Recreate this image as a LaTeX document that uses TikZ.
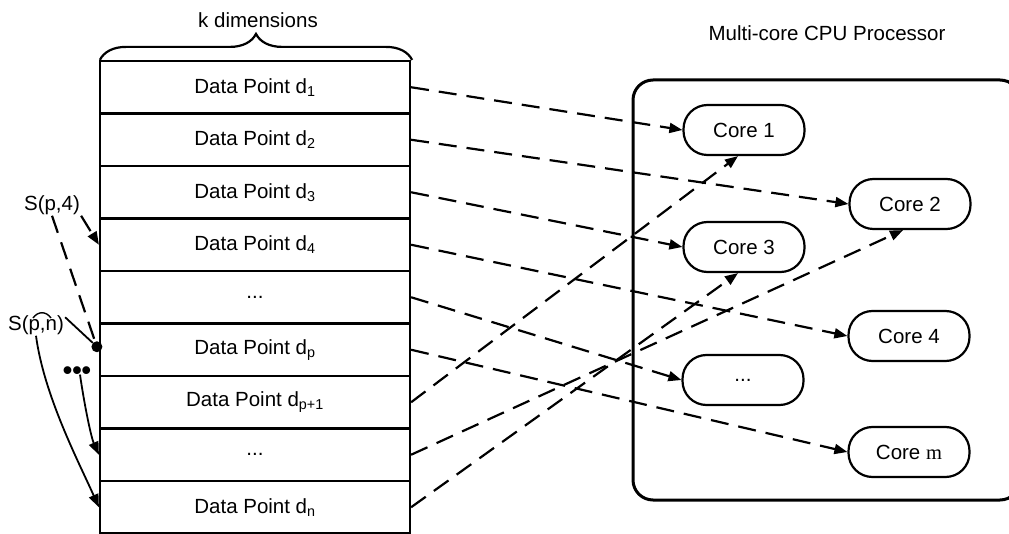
\documentclass[tikz,border=0pt]{standalone}
\usepackage{fontspec}
\setmainfont{Liberation Sans}
\newfontfamily\serifm{Liberation Serif}
\usetikzlibrary{arrows.meta,decorations.pathreplacing,calc}
\begin{document}
\begin{tikzpicture}[x=1pt,y=-1pt,
  font=\fontsize{20.5}{24}\selectfont,
  rowbox/.style={draw,line width=2.2pt,minimum width=310pt,minimum height=52.5pt,inner sep=0pt},
  core/.style={draw,line width=2.2pt,rounded corners=24pt,minimum width=121pt,minimum height=50pt,inner sep=0pt},
  lbl/.style={inner sep=1pt},
  tip/.style={-{Triangle[length=13pt,width=10pt]}},
  dasharr/.style={line width=2.2pt,dash pattern=on 18pt off 10pt,tip},
  dashln/.style={line width=2.2pt,dash pattern=on 18pt off 10pt},
  solidarr/.style={line width=1.8pt,tip},
]
\useasboundingbox (0,0) rectangle (1009,534);

% table rows
\node[rowbox] (r1) at (255,87.25) {Data Point d\textsubscript{1}};
\node[rowbox] (r2) at (255,139.75) {Data Point d\textsubscript{2}};
\node[rowbox] (r3) at (255,192.25) {Data Point d\textsubscript{3}};
\node[rowbox] (r4) at (255,244.75) {Data Point d\textsubscript{4}};
\node[rowbox] (r5) at (255,297.25) {...};
\node[rowbox] (r6) at (255,349.75) {Data Point d\textsubscript{p}};
\node[rowbox] (r7) at (255,402.25) {Data Point d\textsubscript{p+1}};
\node[rowbox] (r8) at (255,454.75) {...};
\node[rowbox] (r9) at (255,507.25) {Data Point d\textsubscript{n}};

% brace and its label
\draw[decorate,decoration={brace,amplitude=26pt},line width=2.2pt]
  ([xshift=1pt]r1.north west) -- ([xshift=1pt]r1.north east);
\node (kdim) at (258,20) {k dimensions};

% processor
\node (title) at (827,33) {Multi-core CPU Processor};
\node[draw,line width=3pt,rounded corners=20pt,minimum width=387pt,minimum height=420pt,inner sep=0pt] (cpu) at (826.5,290) {};
\node[core] (c1) at (744,130) {Core 1};
\node[core] (c2) at (910,204) {Core 2};
\node[core] (c3) at (744,247) {Core 3};
\node[core] (c4) at (909,336) {Core 4};
\node[core] (cd) at (743,380) {...};
\node[core] (cm) at (909,452) {Core {\serifm m}};

% dashed assignments
\draw[dasharr] (r1.east) -- (c1.west);
\draw[dasharr] (r2.east) -- (c2.west);
\draw[dasharr] (r3.east) -- (c3.west);
\draw[dasharr] (r4.east) -- (c4.west);
\draw[dasharr] (r5.east) -- (cd.west);
\draw[dasharr] (r6.east) -- (cm.west);
\draw[dasharr] (r7.east) -- ([xshift=-6pt]c1.south);
\draw[dasharr] (r8.east) -- ([xshift=-7pt]c2.south);
\draw[dasharr] (r9.east) -- ([xshift=-6pt]c3.south);

% left annotations
\node[lbl] (s4) at (52,205) {S(p,4)};
\node[lbl] (spn) at (36,325) {S(p,n)};
\node[lbl,font=\fontsize{27}{30}\selectfont\bfseries] (dots) at (77,373) {•••};
\node[circle,fill,inner sep=0pt,minimum size=11pt] (dot) at ($(r6.west)+(-2,-3)$) {};

\draw[dasharr] (s4.south east) -- (r4.west);
\draw[dashln] (s4.south) -- (dot);
\draw[line width=1.8pt] (spn.15) -- (dot);
\draw[line width=1.4pt] (33,318) .. controls (38,311) and (46,311) .. (51,318);
\draw[solidarr] ([xshift=3pt,yshift=6pt]dots.south) .. controls +(4,28) and +(-8,-18) .. (r8.west);
\draw[solidarr] (spn.south) .. controls +(8,60) and +(-20,-45) .. (r9.west);
\end{tikzpicture}
\end{document}
